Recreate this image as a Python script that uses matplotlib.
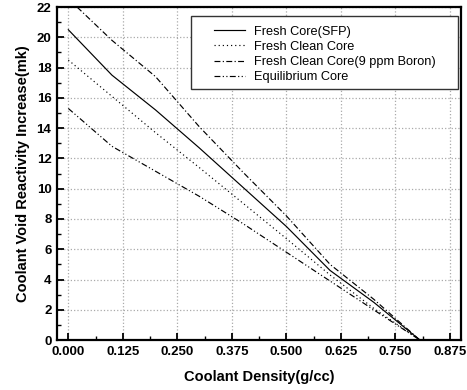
import matplotlib
matplotlib.use("Agg")
import matplotlib.pyplot as plt
from matplotlib.patches import Rectangle
from matplotlib.ticker import MultipleLocator

plt.rcParams['font.family'] = ['Liberation Sans', 'DejaVu Sans']

# Data
density = [0.0, 0.1, 0.2, 0.3, 0.4, 0.5, 0.6, 0.7, 0.806]
fresh_sfp = [20.5, 17.5, 15.2, 12.7, 10.1, 7.5, 4.6, 2.5, 0.0]
fresh_clean = [18.5, 16.1, 13.7, 11.4, 9.05, 6.7, 4.3, 2.1, 0.0]
fresh_boron = [22.55, 19.8, 17.4, 14.1, 11.1, 8.2, 5.0, 2.7, 0.0]
equilibrium = [15.3, 12.8, 11.15, 9.5, 7.7, 5.8, 3.9, 2.0, 0.0]

labels = ["Fresh Core(SFP)", "Fresh Clean Core",
          "Fresh Clean Core(9 ppm Boron)", "Equilibrium Core"]
xtick_vals = [0.0, 0.125, 0.25, 0.375, 0.5, 0.625, 0.75, 0.875]
xtick_text = ["0.000", "0.125", "0.250", "0.375", "0.500", "0.625", "0.750", "0.875"]

fig = plt.figure(figsize=(4.67, 3.9), dpi=100)
ax = fig.add_axes([0.122, 0.128, 0.865, 0.854])

lw = 0.85
ax.plot(density, fresh_sfp, color="black", lw=lw, linestyle="-", label=labels[0])
ax.plot(density, fresh_clean, color="black", lw=lw, linestyle=(0, (1, 2.5)), label=labels[1])
ax.plot(density, fresh_boron, color="black", lw=lw, linestyle=(0, (5, 2, 1, 2)), label=labels[2])
ax.plot(density, equilibrium, color="black", lw=lw, linestyle=(0, (5, 2, 1, 2, 1, 2)), label=labels[3])

ax.set_xlim(-0.026, 0.90)
ax.set_ylim(0, 22)
ax.xaxis.set_minor_locator(MultipleLocator(0.0625))
ax.yaxis.set_major_locator(MultipleLocator(2))
ax.yaxis.set_minor_locator(MultipleLocator(1))
ax.set_xticks(xtick_vals)
ax.set_xticklabels(xtick_text)

ax.tick_params(which="major", direction="in", length=5, width=1.3, labelsize=9.5, pad=4)
ax.tick_params(which="minor", direction="in", length=3, width=1.0)
for lab in ax.get_xticklabels() + ax.get_yticklabels():
    lab.set_fontweight("bold")

for sp in ax.spines.values():
    sp.set_linewidth(1.6)

ax.grid(True, which="major", color="#aaaaaa", linestyle=":", linewidth=0.9)
ax.set_axisbelow(True)

ax.set_xlabel("Coolant Density(g/cc)", fontsize=10.5, fontweight="bold", labelpad=9)
ax.set_ylabel("Coolant Void Reactivity Increase(mk)", fontsize=10.5, fontweight="bold", labelpad=5)

# legend box (drawn by hand so it can be wider than the entries)
box_x0, box_x1, box_y0, box_y1 = 0.333, 0.992, 0.753, 0.974
ax.add_patch(Rectangle((box_x0, box_y0), box_x1 - box_x0, box_y1 - box_y0,
                       transform=ax.transAxes, facecolor="white",
                       edgecolor="#333333", linewidth=1.0, zorder=4))
leg = ax.legend(loc="center", bbox_to_anchor=((box_x0 + box_x1) / 2, (box_y0 + box_y1) / 2 - 0.006),
                fontsize=9.2, frameon=False, handlelength=2.4, labelspacing=0.25,
                borderpad=0, handletextpad=0.7)
leg.set_zorder(5)

fig.savefig("out.png", dpi=100)
plt.close(fig)
